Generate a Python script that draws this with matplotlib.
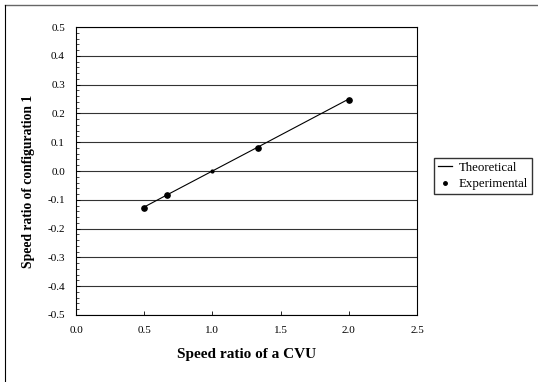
import numpy as np
import matplotlib.pyplot as plt
from matplotlib.lines import Line2D
from matplotlib.ticker import MultipleLocator

# data
theo_x = [0.5, 0.667, 1.0, 1.333, 2.0]
theo_y = [-0.125, -0.083, 0.0, 0.083, 0.25]
exp_x = [0.5, 0.667, 1.0, 1.333, 2.0]
exp_y = [-0.13, -0.085, 0.0, 0.08, 0.247]
x_ticks = [0.0, 0.5, 1.0, 1.5, 2.0, 2.5]
y_ticks = [-0.5, -0.4, -0.3, -0.2, -0.1, 0.0, 0.1, 0.2, 0.3, 0.4, 0.5]

plt.rcParams['font.family'] = ['Liberation Serif', 'DejaVu Serif']

fig = plt.figure(figsize=(5.38, 3.82), dpi=100)
ax = fig.add_axes([0.1413, 0.1754, 0.6338, 0.7539])

ax.plot(theo_x, theo_y, color='k', lw=0.8)
ax.plot(exp_x[:2] + exp_x[3:], exp_y[:2] + exp_y[3:], 'o', color='k',
        ms=3.8, ls='none')
ax.plot([exp_x[2]], [exp_y[2]], 'o', color='k', ms=2)

ax.set_xlim(0, 2.5)
ax.set_ylim(-0.5, 0.5)
ax.set_xticks(x_ticks)
ax.set_xticklabels(['%.1f' % v for v in x_ticks])
ax.set_yticks(y_ticks)
ax.set_yticklabels(['%.1f' % v for v in y_ticks])
ax.yaxis.set_minor_locator(MultipleLocator(0.02))
ax.tick_params(direction='in', labelsize=8, length=3, width=0.6, pad=8)
ax.tick_params(which='minor', direction='in', length=2, width=0.5)
ax.grid(axis='y', color='#333333', lw=0.8)
ax.set_axisbelow(True)
for s in ax.spines.values():
    s.set_linewidth(0.8)

ax.set_ylabel('Speed ratio of configuration 1', fontsize=9.8, fontweight='bold')
ax.yaxis.set_label_coords(-0.12, 0.465)
ax.set_xlabel('Speed ratio of a CVU', fontsize=11, fontweight='bold', labelpad=9)

handles = [Line2D([], [], color='k', lw=0.9),
           Line2D([], [], marker='o', color='k', ms=2.5, ls='none')]
fig.legend(handles, ['Theoretical', 'Experimental'], loc='upper left',
           bbox_to_anchor=(434 / 538, 1 - 158 / 382), fontsize=9.3,
           frameon=True, fancybox=False, edgecolor='k', handlelength=1.1,
           handletextpad=0.5, borderpad=0.3, labelspacing=0.35,
           borderaxespad=0)

# outer chart frame (only top and left edges visible)
fig.add_artist(Line2D([5 / 538, 1], [1 - 5 / 382, 1 - 5 / 382], color='#666666', lw=1))
fig.add_artist(Line2D([5 / 538, 5 / 538], [0, 1 - 5 / 382], color='k', lw=0.8))

fig.savefig('out.png', dpi=100)
